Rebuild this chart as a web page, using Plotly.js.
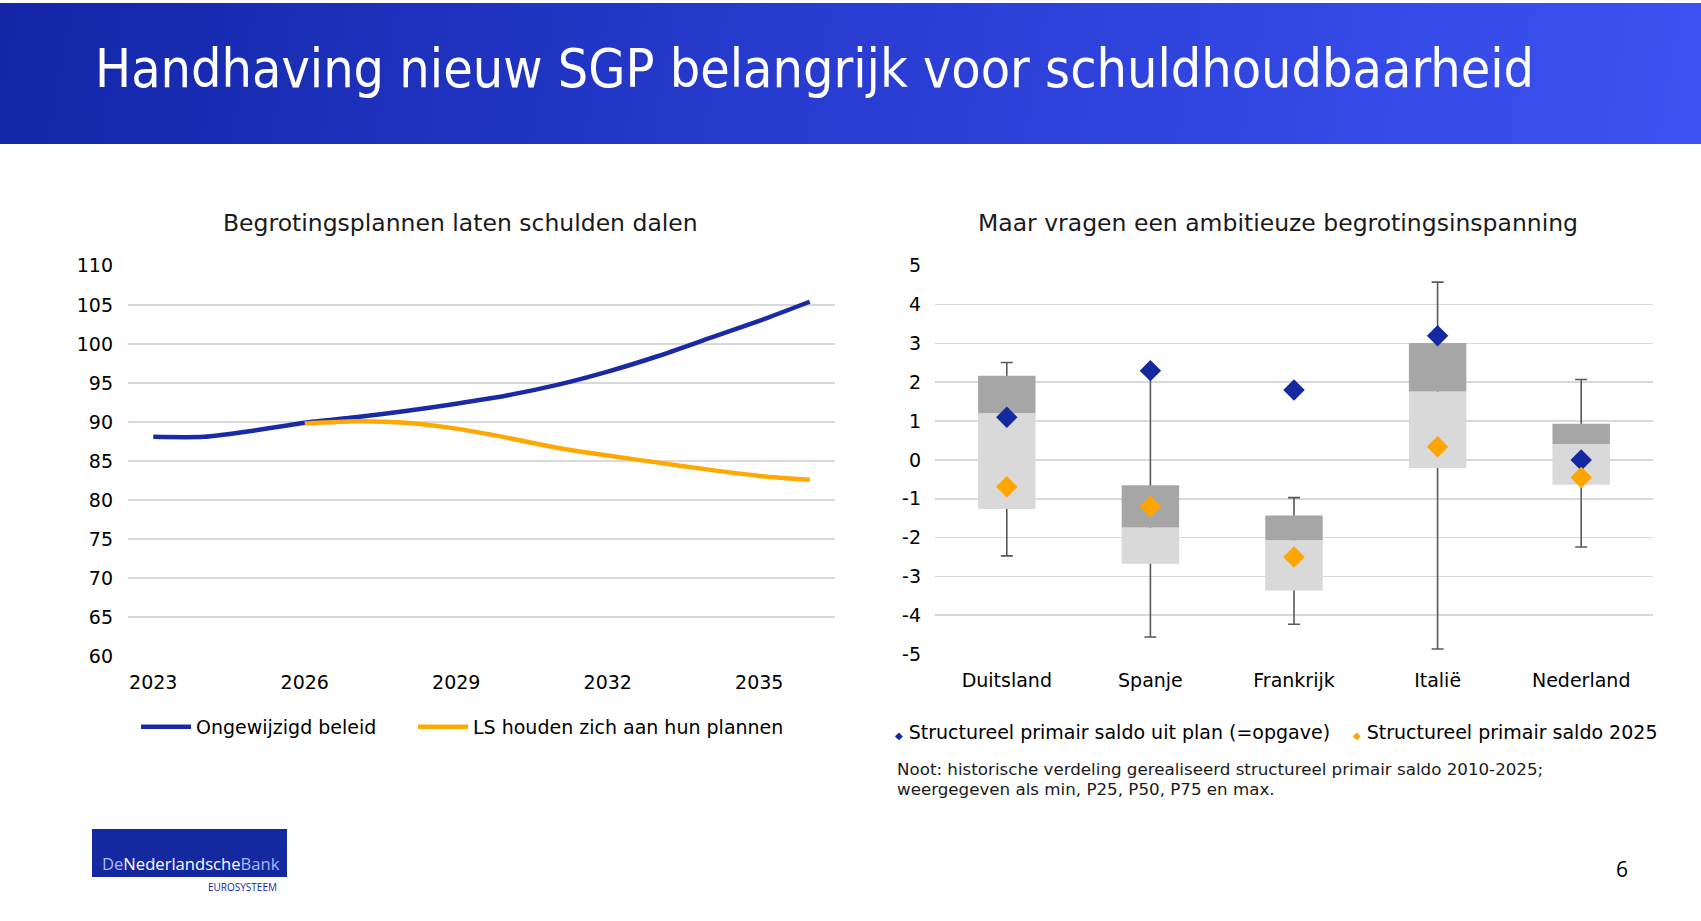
<!DOCTYPE html>
<html>
<head>
<meta charset="utf-8">
<script src="https://cdn.plot.ly/plotly-3.0.1.min.js"></script>
<style>
  html, body { margin: 0; padding: 0; background: #ffffff; }
  #wrap { position: relative; width: 1701px; height: 921px; overflow: hidden; }
  #band { position: absolute; left: 0; top: 3px; width: 1701px; height: 141px;
          background: linear-gradient(100deg, #1226A8 0%, #2B3FD6 55%, #3C52F2 100%); }
  #chart { position: absolute; left: 0; top: 0; width: 1701px; height: 921px; }
</style>
</head>
<body>
<div id="wrap"><div id="band"></div><div id="chart"></div></div>
<script>
// Debt ratio (% GDP): unchanged policy vs. member states following their plans
const years = [2023, 2024, 2025, 2026, 2027, 2028, 2029, 2030, 2031, 2032, 2033, 2034, 2035, 2036];
const debtUnchanged = [88.1, 88.1, 88.9, 89.9, 90.6, 91.4, 92.35, 93.4, 94.75, 96.45, 98.45, 100.7, 102.95, 105.4];
const planYears = [2026, 2027, 2028, 2029, 2030, 2031, 2032, 2033, 2034, 2035, 2036];
const debtPlans = [89.8, 90.1, 89.9, 89.15, 88.0, 86.7, 85.7, 84.8, 83.9, 83.1, 82.6];
const yearTicks = [2023, 2026, 2029, 2032, 2035];
const seriesNames = ['Ongewijzigd beleid', 'LS houden zich aan hun plannen'];

// Structural primary balance: historical distribution 2010-2025 and targets
const countries = ['Duitsland', 'Spanje', 'Frankrijk', 'Italië', 'Nederland'];
const histMin = [-2.47, -4.56, -4.23, -4.87, -2.24];
const histP25 = [-1.26, -2.67, -3.36, -0.21, -0.64];
const histP50 = [1.20, -1.74, -2.07, 1.76, 0.41];
const histP75 = [2.17, -0.65, -1.43, 3.01, 0.93];
const histMax = [2.51, 2.25, -0.97, 4.58, 2.07];
const planBalance = [1.10, 2.30, 1.80, 3.20, 0.00];
const balance2025 = [-0.69, -1.20, -2.50, 0.34, -0.45];
const balanceTicks = [5, 4, 3, 2, 1, 0, -1, -2, -3, -4, -5];
const balanceTickText = ['5', '4', '3', '2', '1', '0', '-1', '-2', '-3', '-4', '-5'];
const markerNames = ['Structureel primair saldo uit plan (=opgave)', 'Structureel primair saldo 2025'];
const noteLines = [
  'Noot: historische verdeling gerealiseerd structureel primair saldo 2010-2025;',
  'weergegeven als min, P25, P50, P75 en max.'
];

const BLUE = '#1A2AA6';
const ORANGE = '#FFA800';
const DIAMOND_BLUE = '#1428A0';
const DIAMOND_ORANGE = '#FFA500';
const GRID = '#D9D9D9';
const FONT = 'DejaVu Sans, sans-serif';
const HEAD_FONT = 'DejaVu Sans Condensed, DejaVu Sans, sans-serif';

const traces = [
  {
    type: 'scatter', mode: 'lines', name: seriesNames[0], legend: 'legend',
    x: years, y: debtUnchanged,
    line: { color: BLUE, width: 4.5, shape: 'spline', smoothing: 0.6 },
    xaxis: 'x', yaxis: 'y'
  },
  {
    type: 'scatter', mode: 'lines', name: seriesNames[1], legend: 'legend2',
    x: planYears, y: debtPlans,
    line: { color: ORANGE, width: 4.5, shape: 'spline', smoothing: 0.6 },
    xaxis: 'x', yaxis: 'y'
  },
  // whiskers min..max, drawn first so the box fills sit on top
  {
    type: 'bar', x: countries, y: histP50, width: 0.4,
    marker: { color: 'rgba(0,0,0,0)' }, showlegend: false, hoverinfo: 'skip',
    error_y: {
      type: 'data', symmetric: false,
      array: histMax.map((v, i) => v - histP50[i]),
      arrayminus: histP50.map((v, i) => v - histMin[i]),
      color: '#595959', thickness: 1.6, width: 6
    },
    xaxis: 'x2', yaxis: 'y2'
  },
  // P25..P50
  {
    type: 'bar', x: countries, base: histP25,
    y: histP50.map((v, i) => v - histP25[i]), width: 0.4,
    marker: { color: '#D9D9D9' }, showlegend: false,
    xaxis: 'x2', yaxis: 'y2'
  },
  // P50..P75
  {
    type: 'bar', x: countries, base: histP50,
    y: histP75.map((v, i) => v - histP50[i]), width: 0.4,
    marker: { color: '#A6A6A6' }, showlegend: false,
    xaxis: 'x2', yaxis: 'y2'
  },
  {
    type: 'scatter', mode: 'markers', name: markerNames[0],
    x: countries, y: planBalance, showlegend: false,
    marker: { symbol: 'diamond', size: 16.5, color: DIAMOND_BLUE },
    xaxis: 'x2', yaxis: 'y2'
  },
  {
    type: 'scatter', mode: 'markers', name: markerNames[1],
    x: countries, y: balance2025, showlegend: false,
    marker: { symbol: 'diamond', size: 16.5, color: DIAMOND_ORANGE },
    xaxis: 'x2', yaxis: 'y2'
  }
];

const tickFont = { family: FONT, size: 19, color: '#000000' };
const legendBase = {
  orientation: 'h', xanchor: 'left', y: 1 - 727 / 921, yanchor: 'middle',
  font: { family: FONT, size: 19, color: '#000000' },
  itemwidth: 50, bgcolor: 'rgba(0,0,0,0)'
};

const layout = {
  width: 1701, height: 921, autosize: false,
  margin: { l: 0, r: 0, t: 0, b: 0 },
  paper_bgcolor: 'rgba(0,0,0,0)', plot_bgcolor: 'rgba(0,0,0,0)',
  font: { family: FONT, color: '#000000' },
  barmode: 'overlay',
  title: {
    text: 'Handhaving nieuw SGP belangrijk voor schuldhoudbaarheid',
    x: 95 / 1701, xanchor: 'left', xref: 'paper',
    y: 1 - 68 / 921, yanchor: 'middle', yref: 'paper',
    font: { family: HEAD_FONT, size: 53.4, color: '#ffffff' }
  },
  xaxis: {
    domain: [128 / 1701, 835 / 1701], range: [2022.5, 2036.5],
    tickvals: yearTicks, ticktext: yearTicks.map(String),
    showgrid: false, zeroline: false, showline: false, ticks: '',
    ticklabelstandoff: 13, tickfont: tickFont
  },
  yaxis: {
    domain: [1 - 656.3 / 921, 1 - 265.8 / 921], range: [60, 110], dtick: 5,
    gridcolor: GRID, gridwidth: 1.6, zeroline: false, showline: false, ticks: '',
    ticklabelstandoff: 14, tickfont: tickFont
  },
  xaxis2: {
    domain: [935 / 1701, 1653 / 1701], anchor: 'y2', type: 'category',
    range: [-0.5, 4.5],
    showgrid: false, zeroline: false, showline: false, ticks: '',
    ticklabelstandoff: 13, tickfont: tickFont
  },
  yaxis2: {
    domain: [1 - 654.1 / 921, 1 - 265.8 / 921], anchor: 'x2', range: [-5, 5],
    tickvals: balanceTicks, ticktext: balanceTickText,
    gridcolor: GRID, gridwidth: 1.6, zeroline: false, showline: false, ticks: '',
    ticklabelstandoff: 13, tickfont: tickFont
  },
  showlegend: true,
  legend: Object.assign({}, legendBase, { x: 136 / 1701 }),
  legend2: Object.assign({}, legendBase, { x: 413 / 1701 }),
  shapes: [
    {
      type: 'rect', xref: 'paper', yref: 'paper',
      x0: 92 / 1701, x1: 287 / 1701, y0: 1 - 877 / 921, y1: 1 - 829 / 921,
      fillcolor: '#1428A0', line: { width: 0 }
    }
  ],
  annotations: [
    {
      text: 'Begrotingsplannen laten schulden dalen',
      xref: 'paper', yref: 'paper', x: 460 / 1701, y: 1 - 223 / 921,
      xanchor: 'center', yanchor: 'middle', showarrow: false,
      font: { family: FONT, size: 23.5, color: '#1a1a1a' }
    },
    {
      text: 'Maar vragen een ambitieuze begrotingsinspanning',
      xref: 'paper', yref: 'paper', x: 1278 / 1701, y: 1 - 223 / 921,
      xanchor: 'center', yanchor: 'middle', showarrow: false,
      font: { family: FONT, size: 23.5, color: '#1a1a1a' }
    },
    {
      text: '<span style="color:' + DIAMOND_BLUE + ';font-size:10px">◆</span> ' + markerNames[0],
      xref: 'paper', yref: 'paper', x: 893 / 1701, y: 1 - 732 / 921,
      xanchor: 'left', yanchor: 'middle', showarrow: false,
      font: { family: FONT, size: 19, color: '#000000' }
    },
    {
      text: '<span style="color:' + DIAMOND_ORANGE + ';font-size:10px">◆</span> ' + markerNames[1],
      xref: 'paper', yref: 'paper', x: 1351 / 1701, y: 1 - 732 / 921,
      xanchor: 'left', yanchor: 'middle', showarrow: false,
      font: { family: FONT, size: 19, color: '#000000' }
    },
    {
      text: noteLines[0],
      xref: 'paper', yref: 'paper', x: 895 / 1701, y: 1 - 769 / 921,
      xanchor: 'left', yanchor: 'middle', align: 'left', showarrow: false,
      font: { family: FONT, size: 16.7, color: '#1a1a1a' }
    },
    {
      text: noteLines[1],
      xref: 'paper', yref: 'paper', x: 895 / 1701, y: 1 - 789 / 921,
      xanchor: 'left', yanchor: 'middle', align: 'left', showarrow: false,
      font: { family: FONT, size: 16.7, color: '#1a1a1a' }
    },
    {
      text: '<span style="color:#AEB9F0">De</span>Nederlandsche<span style="color:#AEB9F0">Bank</span>',
      xref: 'paper', yref: 'paper', x: 100 / 1701, y: 1 - 863 / 921,
      xanchor: 'left', yanchor: 'middle', showarrow: false,
      font: { family: 'Open Sans, sans-serif', size: 16.6, color: '#ffffff' }
    },
    {
      text: 'EUROSYSTEEM',
      xref: 'paper', yref: 'paper', x: 279 / 1701, y: 1 - 887 / 921,
      xanchor: 'right', yanchor: 'middle', showarrow: false,
      font: { family: 'Open Sans, sans-serif', size: 10, color: '#1428A0' }
    },
    {
      text: '6',
      xref: 'paper', yref: 'paper', x: 1622 / 1701, y: 1 - 869 / 921,
      xanchor: 'center', yanchor: 'middle', showarrow: false,
      font: { family: 'Open Sans, sans-serif', size: 21, color: '#000000' }
    }
  ]
};

Plotly.newPlot('chart', traces, layout, { displayModeBar: false, staticPlot: true });
</script>
</body>
</html>
